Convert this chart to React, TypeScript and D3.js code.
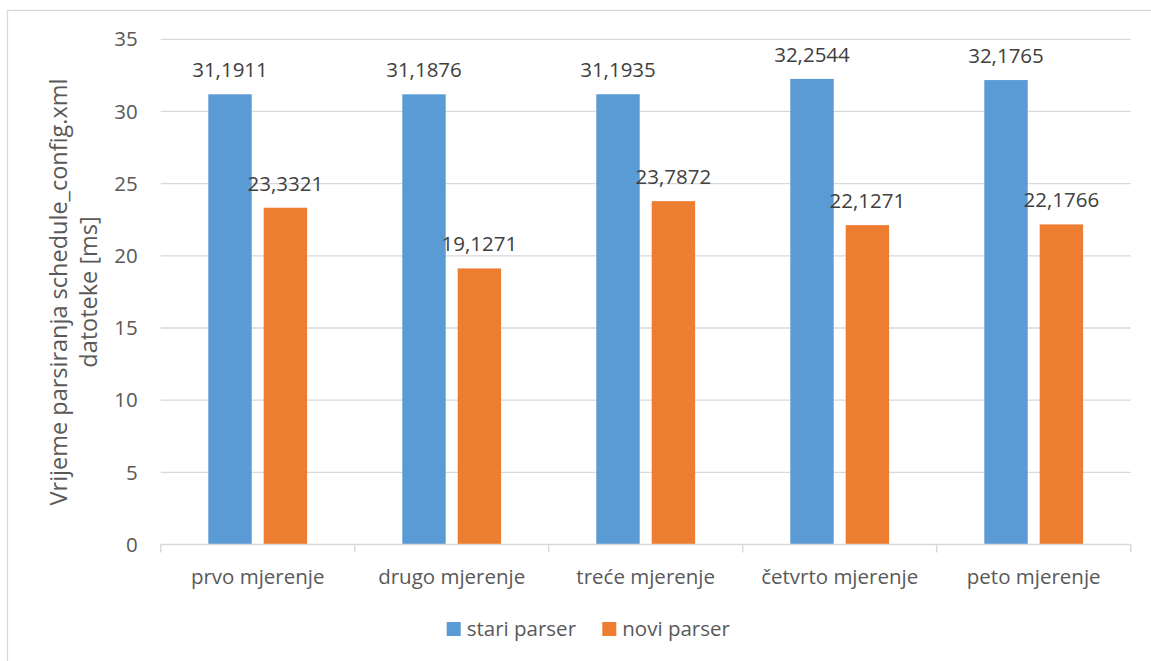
import React from "react";
import * as d3 from "d3";

const categories = ["prvo mjerenje", "drugo mjerenje", "treće mjerenje", "četvrto mjerenje", "peto mjerenje"];
const seriesNames = ["stari parser", "novi parser"];
const stariParser = [31.1911, 31.1876, 31.1935, 32.2544, 32.1765];
const noviParser = [23.3321, 19.1271, 23.7872, 22.1271, 22.1766];
const yTicks = [0, 5, 10, 15, 20, 25, 30, 35];
const colors = ["#5B9BD5", "#ED7D31"];
const yTitle = ["Vrijeme parsiranja schedule_config.xml", "datoteke [ms]"];

const W = 1151;
const H = 661;
const plot = { left: 160.7, right: 1130.7, top: 39.3, bottom: 544.5 };
const FONT = "'Open Sans', 'Noto Sans', sans-serif";
const FS = 20.5;
const TEXT = "#595959";
const GRID = "#D9D9D9";

const fmt = (v: number) => v.toFixed(4).replace(".", ",");

export default function App() {
  const x0 = d3.scaleBand<string>().domain(categories).range([plot.left, plot.right]).padding(0);
  const x1 = d3
    .scaleBand<string>()
    .domain(seriesNames)
    .range([0, x0.bandwidth()])
    .paddingInner(0.2166)
    .paddingOuter(0.859);
  const y = d3.scaleLinear().domain([0, 35]).range([plot.bottom, plot.top]);
  const series = [stariParser, noviParser];
  const tickXs = [...categories.map((c) => x0(c) as number), plot.right];

  return (
    <svg
      width={W}
      height={H}
      style={{ position: "absolute", left: 0, top: 0, background: "#fff" }}
      fontFamily={FONT}
    >
      <rect x={0} y={0} width={W} height={H} fill="#fff" />
      <rect x={7.5} y={10.5} width={W + 20} height={H + 20} fill="none" stroke={GRID} strokeWidth={1.3} />
      {yTicks.filter((t) => t > 0).map((t) => (
        <line key={t} x1={plot.left} x2={plot.right} y1={y(t)} y2={y(t)} stroke={GRID} strokeWidth={1.3} />
      ))}
      {yTicks.map((t) => (
        <text key={t} x={137.7} y={y(t)} dy="0.35em" textAnchor="end" fontSize={FS} fill={TEXT}>
          {t}
        </text>
      ))}
      {categories.map((c, i) =>
        series.map((s, j) => {
          const bx = (x0(c) as number) + (x1(seriesNames[j]) as number);
          const bw = x1.bandwidth();
          const v = s[i];
          return (
            <g key={c + j}>
              <rect x={bx} y={y(v)} width={bw} height={y(0) - y(v)} fill={colors[j]} />
              <text x={bx + bw / 2} y={y(v) - 17} textAnchor="middle" fontSize={FS} fill="#404040">
                {fmt(v)}
              </text>
            </g>
          );
        })
      )}
      <line x1={plot.left} x2={plot.right} y1={plot.bottom} y2={plot.bottom} stroke={GRID} strokeWidth={1.5} />
      {tickXs.map((tx, i) => (
        <line key={i} x1={tx} x2={tx} y1={plot.bottom} y2={plot.bottom + 8} stroke={GRID} strokeWidth={1.5} />
      ))}
      {categories.map((c) => (
        <text
          key={c}
          x={(x0(c) as number) + x0.bandwidth() / 2}
          y={584}
          textAnchor="middle"
          fontSize={FS}
          fill={TEXT}
        >
          {c}
        </text>
      ))}
      <text transform="translate(0,292) rotate(-90)" textAnchor="middle" fontSize={23.5} fill={TEXT}>
        <tspan x={0} y={67}>{yTitle[0]}</tspan>
        <tspan x={0} y={97}>{yTitle[1]}</tspan>
      </text>
      {seriesNames.map((n, j) => {
        const lx = [446.7, 602.3][j];
        return (
          <g key={n}>
            <rect x={lx} y={622} width={14} height={14} fill={colors[j]} />
            <text x={lx + 20} y={629} dy="0.35em" fontSize={FS} fill={TEXT}>
              {n}
            </text>
          </g>
        );
      })}
    </svg>
  );
}
